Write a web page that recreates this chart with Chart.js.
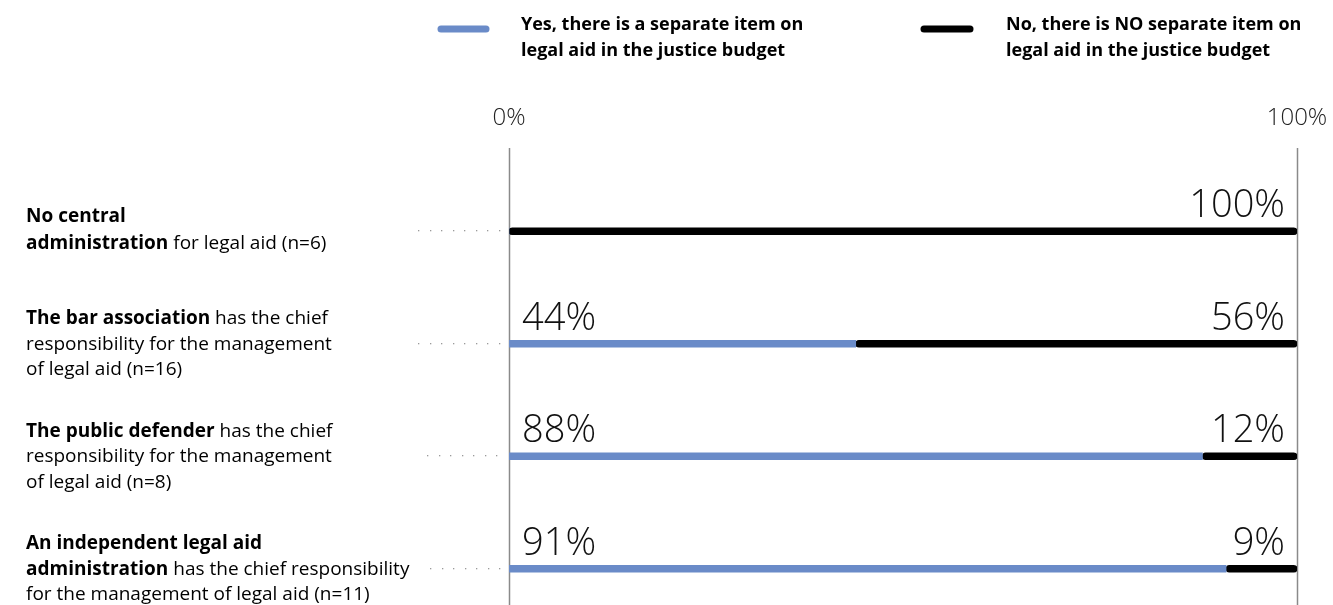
<!DOCTYPE html>
<html>
<head>
<meta charset="utf-8">
<script src="https://cdn.jsdelivr.net/npm/chart.js@4.4.1/dist/chart.umd.min.js"></script>
<style>
  html, body { margin: 0; padding: 0; background: #fff; overflow: hidden; }
  #wrap { width: 1333px; height: 640px; }
</style>
</head>
<body>
<div id="wrap"><canvas id="c" width="1333" height="640"></canvas></div>
<script>
(function(){
  var categories = ['No central administration', 'The bar association', 'The public defender', 'An independent legal aid administration'];
  // label lines: [text, bold]
  var categoryLines = [
    [[['No central', true]], [['administration', true], [' for legal aid (n=6)', false]]],
    [[['The bar association', true], [' has the chief', false]], [['responsibility for the management', false]], [['of legal aid (n=16)', false]]],
    [[['The public defender', true], [' has the chief', false]], [['responsibility for the management', false]], [['of legal aid (n=8)', false]]],
    [[['An independent legal aid', true]], [['administration', true], [' has the chief responsibility', false]], [['for the management of legal aid (n=11)', false]]]
  ];
  var yesValues = [0, 44, 88, 91];
  var noValues = [100, 56, 12, 9];
  var axisTicks = [0, 100];
  var legendYes = ['Yes, there is a separate item on', 'legal aid in the justice budget'];
  var legendNo = ['No, there is NO separate item on', 'legal aid in the justice budget'];

  var BLUE = '#6a8bc8';
  var BLACK = '#000000';
  var FONT = '"Open Sans", "Noto Sans", sans-serif';

  var decorPlugin = {
    id: 'decor',
    beforeDatasetsDraw: function(chart){
      var ctx = chart.ctx;
      var xs = chart.scales.x;
      var ys = chart.scales.y;
      ctx.save();
      // vertical lines at 0% and 100%
      ctx.strokeStyle = '#8a8a8a';
      ctx.lineWidth = 1.5;
      axisTicks.forEach(function(t){
        var x = Math.round(xs.getPixelForValue(t)) + 0.5;
        ctx.beginPath();
        ctx.moveTo(x, 148);
        ctx.lineTo(x, chart.height);
        ctx.stroke();
      });
      // dotted leaders
      var leaderStart = [418, 418, 427, 430];
      ctx.fillStyle = '#9a9a9a';
      categories.forEach(function(c, i){
        var y = ys.getPixelForValue(i);
        for (var x = leaderStart[i]; x < xs.left - 4; x += 11.5){
          ctx.fillRect(Math.round(x), Math.round(y) - 1, 1.3, 1.3);
        }
      });
      ctx.restore();
    },
    afterDraw: function(chart){
      var ctx = chart.ctx;
      var xs = chart.scales.x;
      var ys = chart.scales.y;
      ctx.save();
      // axis tick labels
      ctx.fillStyle = '#222';
      ctx.font = '300 24px ' + FONT;
      ctx.textAlign = 'center';
      ctx.textBaseline = 'alphabetic';
      axisTicks.forEach(function(t){
        ctx.fillText(t + '%', xs.getPixelForValue(t), 125);
      });
      // category labels
      var lineH = 25.5;
      categories.forEach(function(c, i){
        var lines = categoryLines[i];
        var cy = ys.getPixelForValue(i);
        var firstY = (i === 0) ? cy - 15 : cy - 25;
        var lh = (i === 0) ? 27 : lineH;
        lines.forEach(function(line, li){
          var x = 26;
          var y = firstY + li * lh;
          line.forEach(function(seg){
            ctx.font = (seg[1] ? 'bold ' : '') + '19px ' + FONT;
            ctx.textAlign = 'left';
            ctx.textBaseline = 'middle';
            ctx.fillStyle = '#000';
            ctx.fillText(seg[0], x, y);
            x += ctx.measureText(seg[0]).width;
          });
        });
        // value labels
        ctx.font = '300 38px ' + FONT;
        ctx.textBaseline = 'alphabetic';
        ctx.fillStyle = '#111';
        if (yesValues[i] > 0){
          ctx.textAlign = 'left';
          ctx.fillText(yesValues[i] + '%', xs.getPixelForValue(0) + 13, cy - 14);
        }
        if (noValues[i] > 0){
          ctx.textAlign = 'right';
          ctx.fillText(noValues[i] + '%', xs.getPixelForValue(100) - 12, cy - 14);
        }
      });
      // legend
      function legendItem(color, x0, x1, tx, lines){
        ctx.strokeStyle = color;
        ctx.lineWidth = 7;
        ctx.lineCap = 'round';
        ctx.beginPath();
        ctx.moveTo(x0, 29);
        ctx.lineTo(x1, 29);
        ctx.stroke();
        ctx.font = 'bold 18px ' + FONT;
        ctx.fillStyle = '#000';
        ctx.textAlign = 'left';
        ctx.textBaseline = 'middle';
        lines.forEach(function(l, k){ ctx.fillText(l, tx, 25 + k * 26); });
      }
      legendItem(BLUE, 441, 486, 521, legendYes);
      legendItem(BLACK, 924, 970, 1006, legendNo);
      ctx.restore();
    }
  };

  new Chart(document.getElementById('c'), {
    type: 'bar',
    data: {
      labels: categories,
      datasets: [
        { label: legendYes.join(' '), data: yesValues, backgroundColor: BLUE, barThickness: 7, borderRadius: 3.5, borderSkipped: false },
        { label: legendNo.join(' '), data: noValues, backgroundColor: BLACK, barThickness: 7, borderRadius: 3.5, borderSkipped: false }
      ]
    },
    options: {
      indexAxis: 'y',
      responsive: false,
      animation: false,
      layout: { padding: { left: 509, right: 36, top: 175, bottom: 15 } },
      plugins: { legend: { display: false }, tooltip: { enabled: false } },
      scales: {
        x: { stacked: true, min: 0, max: 100, display: false },
        y: { stacked: true, display: false }
      }
    },
    plugins: [decorPlugin]
  });
})();
</script>
</body>
</html>
